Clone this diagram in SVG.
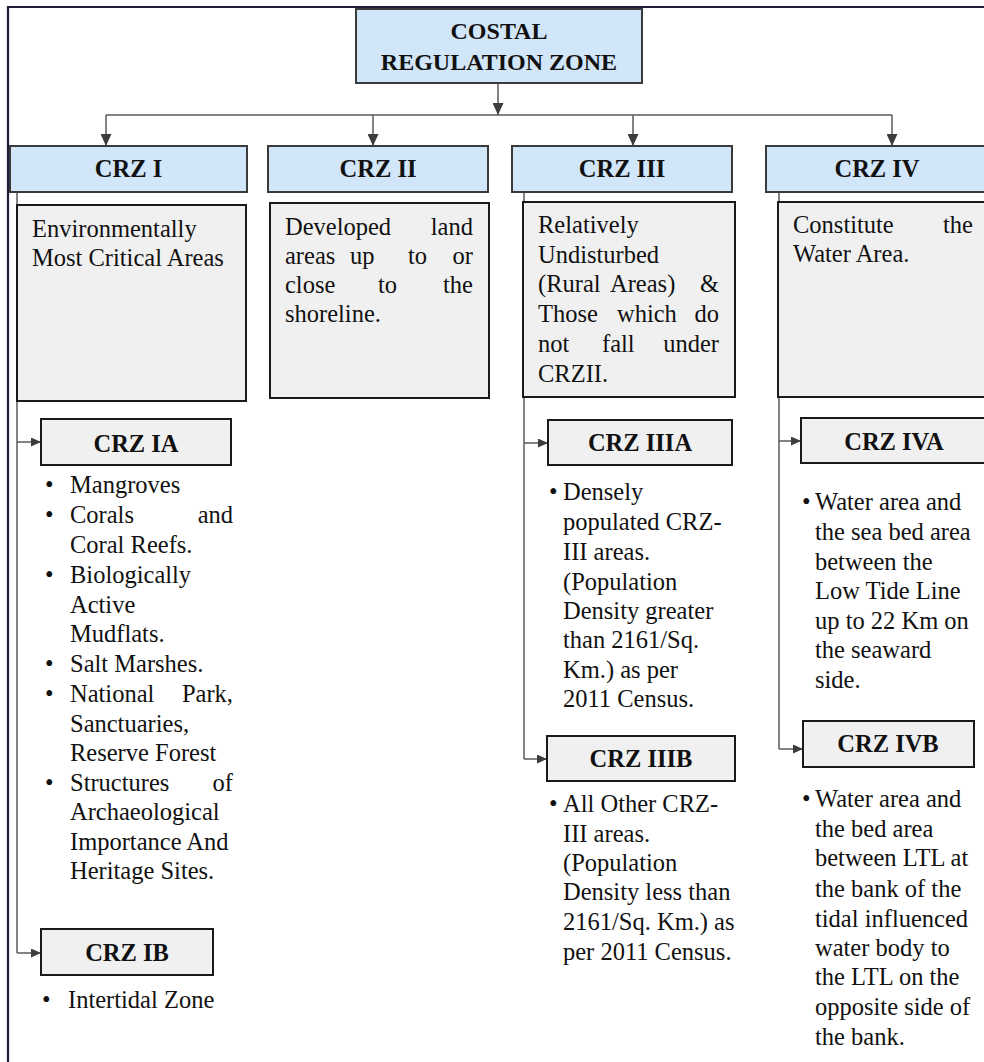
<svg xmlns="http://www.w3.org/2000/svg" width="984" height="1062" viewBox="0 0 984 1062">
  <defs>
    <marker id="arrowDown" markerUnits="userSpaceOnUse" markerWidth="12" markerHeight="11" refX="12" refY="5.5" orient="auto">
      <path d="M0,0 L12,5.5 L0,11 z" fill="#3c3c3c"/>
    </marker>
    <marker id="arrowSide" markerUnits="userSpaceOnUse" markerWidth="10" markerHeight="9" refX="10" refY="4.5" orient="auto">
      <path d="M0,0 L10,4.5 L0,9 z" fill="#3c3c3c"/>
    </marker>
    <style>
      .frame { fill: none; stroke: #1c1c3e; stroke-width: 2.2; }
      .head { fill: #d2e6fa; stroke: #3a3a3a; stroke-width: 2; }
      .desc { fill: #f0f0f0; stroke: #1a1a1a; stroke-width: 2; }
      .sub { fill: #f0f0f0; stroke: #1a1a1a; stroke-width: 2; }
      .link { fill: none; stroke: #5a5a5a; stroke-width: 1.5; }
      .label { font-family: "Liberation Serif", "Times New Roman", serif; font-weight: bold; font-size: 24.5px; fill: #111; text-anchor: middle; }
      .title { font-family: "Liberation Serif", "Times New Roman", serif; font-weight: bold; font-size: 24px; fill: #111; text-anchor: middle; }
      .body { font-family: "Liberation Serif", "Times New Roman", serif; font-size: 24.5px; fill: #111; }
      .end { text-anchor: end; }
    </style>
  </defs>

  <rect width="984" height="1062" fill="#ffffff"/>
  <!-- page frame (top and left edges visible) -->
  <path class="frame" d="M8,1062 V7 H990"/>

  <!-- connectors -->
  <g id="connectors">
    <path class="link" d="M498,83 V115" marker-end="url(#arrowDown)"/>
    <path class="link" d="M106,115 H892"/>
    <path class="link" d="M106,115 V146" marker-end="url(#arrowDown)"/>
    <path class="link" d="M373,115 V146" marker-end="url(#arrowDown)"/>
    <path class="link" d="M633,115 V146" marker-end="url(#arrowDown)"/>
    <path class="link" d="M892,115 V146" marker-end="url(#arrowDown)"/>
    <!-- CRZ I branch -->
    <path class="link" d="M17,192 V953"/>
    <path class="link" d="M17,442 H41" marker-end="url(#arrowSide)"/>
    <path class="link" d="M17,953 H41" marker-end="url(#arrowSide)"/>
    <!-- CRZ III branch -->
    <path class="link" d="M524,192 V759"/>
    <path class="link" d="M524,443 H548" marker-end="url(#arrowSide)"/>
    <path class="link" d="M524,759 H547" marker-end="url(#arrowSide)"/>
    <!-- CRZ IV branch -->
    <path class="link" d="M779,192 V749"/>
    <path class="link" d="M779,441 H801" marker-end="url(#arrowSide)"/>
    <path class="link" d="M779,749 H803" marker-end="url(#arrowSide)"/>
  </g>

  <!-- root -->
  <g id="crz-root">
    <rect class="head" x="356" y="9" width="286" height="74"/>
    <text class="title" x="499" y="39">COSTAL</text>
    <text class="title" x="499" y="70">REGULATION ZONE</text>
  </g>

  <!-- CRZ I -->
  <g id="crz-1">
    <rect class="head" x="10" y="146" width="237" height="46"/>
    <text class="label" x="128.5" y="177">CRZ I</text>
  </g>
  <g id="crz-1-desc">
    <rect class="desc" x="17" y="205" width="229" height="196"/>
    <text class="body" x="32" y="237">Environmentally</text>
    <text class="body" x="32" y="266">Most Critical Areas</text>
  </g>
  <g id="crz-1a">
    <rect class="sub" x="41" y="419" width="190" height="46"/>
    <text class="label" x="136" y="452">CRZ IA</text>
  </g>
  <g id="crz-1a-list" class="body">
    <text x="45" y="493">•</text><text x="70" y="493">Mangroves</text>
    <text x="45" y="523">•</text><text x="70" y="523">Corals</text><text class="end" x="233" y="523">and</text>
    <text x="70" y="553">Coral Reefs.</text>
    <text x="45" y="583">•</text><text x="70" y="583">Biologically</text>
    <text x="70" y="613">Active</text>
    <text x="70" y="642">Mudflats.</text>
    <text x="45" y="672">•</text><text x="70" y="672">Salt Marshes.</text>
    <text x="45" y="702">•</text><text x="70" y="702">National</text><text class="end" x="233" y="702">Park,</text>
    <text x="70" y="732">Sanctuaries,</text>
    <text x="70" y="761">Reserve Forest</text>
    <text x="45" y="791">•</text><text x="70" y="791">Structures</text><text class="end" x="233" y="791">of</text>
    <text x="70" y="820">Archaeological</text>
    <text x="70" y="850">Importance And</text>
    <text x="70" y="879">Heritage Sites.</text>
  </g>
  <g id="crz-1b">
    <rect class="sub" x="41" y="929" width="172" height="46"/>
    <text class="label" x="127" y="961">CRZ IB</text>
  </g>
  <g id="crz-1b-list" class="body">
    <text x="42" y="1008">•</text><text x="68" y="1008">Intertidal Zone</text>
  </g>

  <!-- CRZ II -->
  <g id="crz-2">
    <rect class="head" x="268" y="146" width="220" height="46"/>
    <text class="label" x="378" y="177">CRZ II</text>
  </g>
  <g id="crz-2-desc" class="body">
    <rect class="desc" x="270" y="203" width="219" height="195"/>
    <text x="285" y="235">Developed</text><text class="end" x="473" y="235">land</text>
    <text x="285" y="264">areas</text><text x="350" y="264">up</text><text x="408" y="264">to</text><text class="end" x="473" y="264">or</text>
    <text x="285" y="293">close</text><text x="378" y="293">to</text><text class="end" x="473" y="293">the</text>
    <text x="285" y="322">shoreline.</text>
  </g>

  <!-- CRZ III -->
  <g id="crz-3">
    <rect class="head" x="512" y="146" width="220" height="46"/>
    <text class="label" x="622" y="177">CRZ III</text>
  </g>
  <g id="crz-3-desc" class="body">
    <rect class="desc" x="523" y="202" width="212" height="195"/>
    <text x="538" y="233">Relatively</text>
    <text x="538" y="263">Undisturbed</text>
    <text x="538" y="292">(Rural</text><text x="610" y="292">Areas)</text><text class="end" x="719" y="292">&amp;</text>
    <text x="538" y="322">Those</text><text x="617" y="322">which</text><text class="end" x="719" y="322">do</text>
    <text x="538" y="352">not</text><text x="602" y="352">fall</text><text class="end" x="719" y="352">under</text>
    <text x="538" y="382">CRZII.</text>
  </g>
  <g id="crz-3a">
    <rect class="sub" x="548" y="420" width="184" height="45"/>
    <text class="label" x="640" y="451">CRZ IIIA</text>
  </g>
  <g id="crz-3a-list" class="body">
    <text x="549" y="500">•</text>
    <text x="563" y="500">Densely</text>
    <text x="563" y="530">populated CRZ-</text>
    <text x="563" y="560">III areas.</text>
    <text x="563" y="590">(Population</text>
    <text x="563" y="619">Density greater</text>
    <text x="563" y="648">than 2161/Sq.</text>
    <text x="563" y="678">Km.) as per</text>
    <text x="563" y="707">2011 Census.</text>
  </g>
  <g id="crz-3b">
    <rect class="sub" x="547" y="736" width="188" height="45"/>
    <text class="label" x="641" y="767">CRZ IIIB</text>
  </g>
  <g id="crz-3b-list" class="body">
    <text x="549" y="812">•</text>
    <text x="563" y="812">All Other CRZ-</text>
    <text x="563" y="842">III areas.</text>
    <text x="563" y="871">(Population</text>
    <text x="563" y="900">Density less than</text>
    <text x="563" y="930">2161/Sq. Km.) as</text>
    <text x="563" y="960">per 2011 Census.</text>
  </g>

  <!-- CRZ IV -->
  <g id="crz-4">
    <rect class="head" x="766" y="146" width="224" height="46"/>
    <text class="label" x="877" y="177">CRZ IV</text>
  </g>
  <g id="crz-4-desc" class="body">
    <rect class="desc" x="778" y="202" width="212" height="195"/>
    <text x="793" y="233">Constitute</text><text class="end" x="973" y="233">the</text>
    <text x="793" y="262">Water Area.</text>
  </g>
  <g id="crz-4a">
    <rect class="sub" x="801" y="418" width="189" height="45"/>
    <text class="label" x="894" y="450">CRZ IVA</text>
  </g>
  <g id="crz-4a-list" class="body">
    <text x="802" y="510">•</text>
    <text x="815" y="510">Water area and</text>
    <text x="815" y="540">the sea bed area</text>
    <text x="815" y="570">between the</text>
    <text x="815" y="599">Low Tide Line</text>
    <text x="815" y="629">up to 22 Km on</text>
    <text x="815" y="658">the seaward</text>
    <text x="815" y="688">side.</text>
  </g>
  <g id="crz-4b">
    <rect class="sub" x="803" y="721" width="171" height="46"/>
    <text class="label" x="888" y="752">CRZ IVB</text>
  </g>
  <g id="crz-4b-list" class="body">
    <text x="802" y="807">•</text>
    <text x="815" y="807">Water area and</text>
    <text x="815" y="837">the bed area</text>
    <text x="815" y="866">between LTL at</text>
    <text x="815" y="897">the bank of the</text>
    <text x="815" y="927">tidal influenced</text>
    <text x="815" y="956">water body to</text>
    <text x="815" y="985">the LTL on the</text>
    <text x="815" y="1015">opposite side of</text>
    <text x="815" y="1045">the bank.</text>
  </g>
</svg>
